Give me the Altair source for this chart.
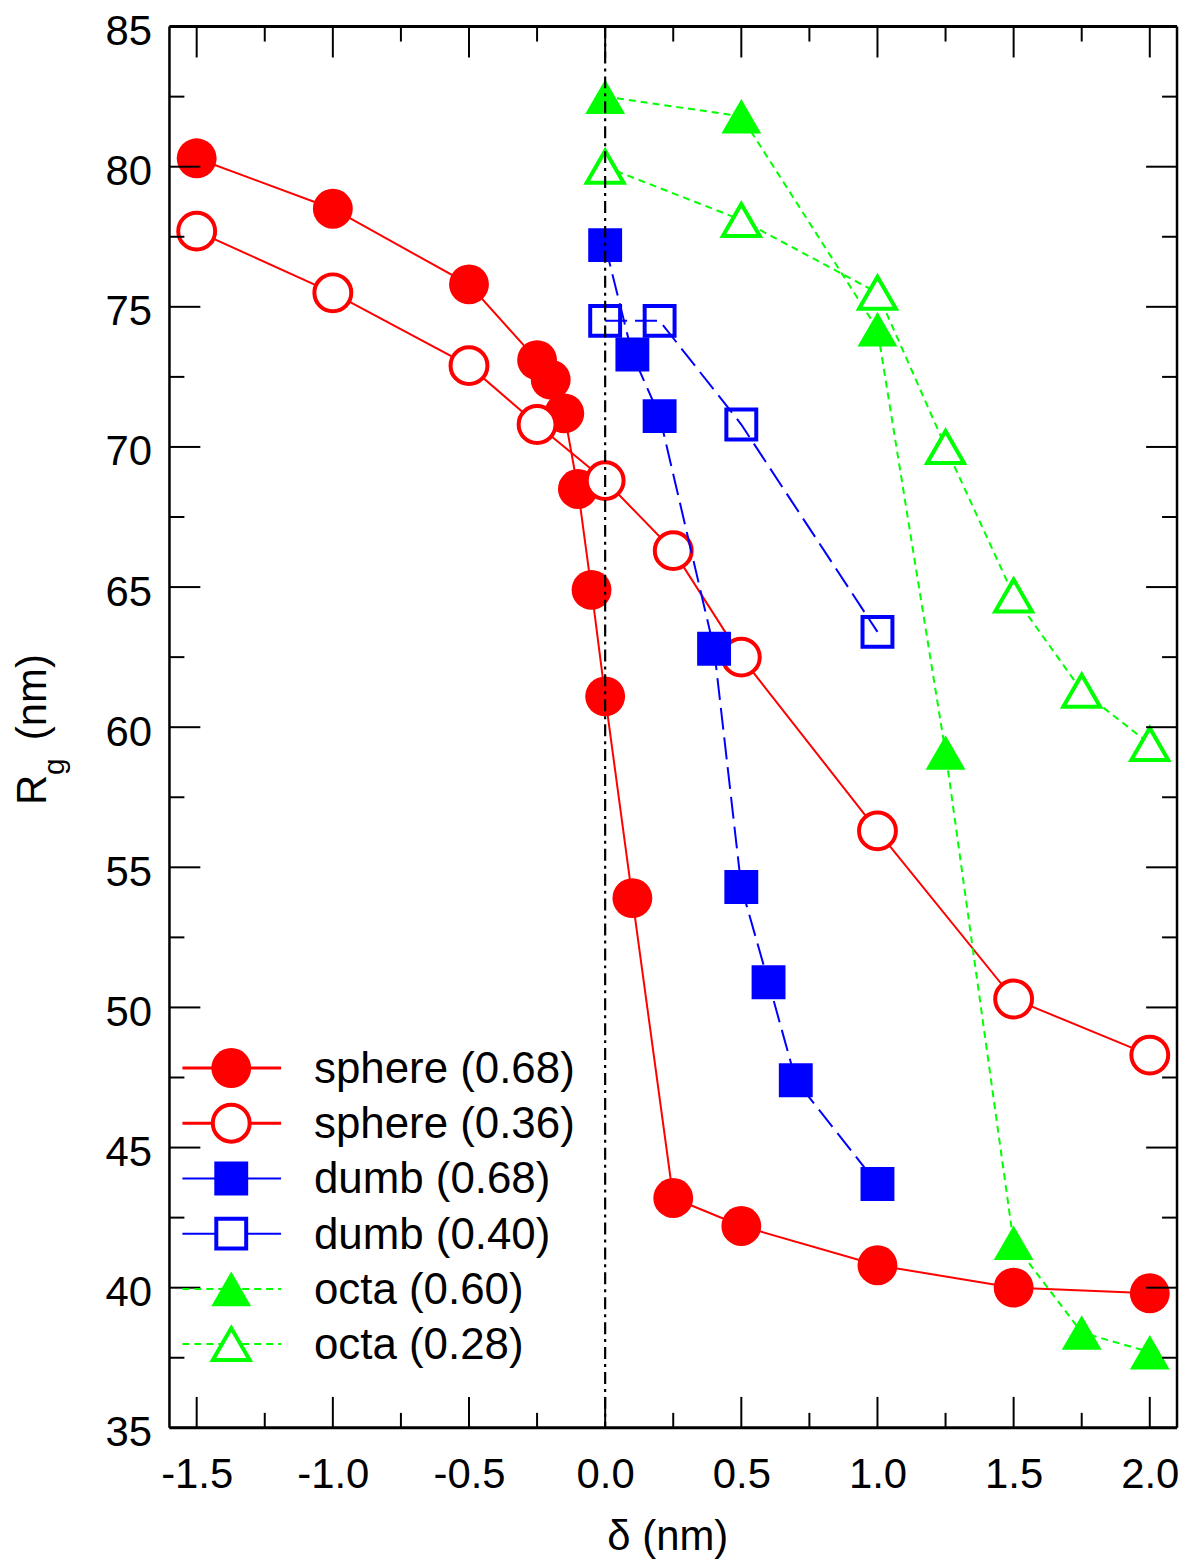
import altair as alt
import pandas as pd

# ---------------- data ----------------
series_names = ["sphere (0.68)", "sphere (0.36)", "dumb (0.68)",
                "dumb (0.40)", "octa (0.60)", "octa (0.28)"]

sphere68_x = [-1.5, -1.0, -0.5, -0.25, -0.2, -0.15, -0.1, -0.05, 0.0, 0.1, 0.25, 0.5, 1.0, 1.5, 2.0]
sphere68_y = [80.3, 78.5, 75.8, 73.1, 72.4, 71.2, 68.5, 64.9, 61.1, 53.9, 43.2, 42.2, 40.8, 40.0, 39.8]

sphere36_x = [-1.5, -1.0, -0.5, -0.25, 0.0, 0.25, 0.5, 1.0, 1.5, 2.0]
sphere36_y = [77.7, 75.5, 72.9, 70.8, 68.8, 66.3, 62.5, 56.3, 50.3, 48.3]

dumb68_x = [0.0, 0.1, 0.2, 0.4, 0.5, 0.6, 0.7, 1.0]
dumb68_y = [77.2, 73.3, 71.1, 62.8, 54.3, 50.9, 47.4, 43.7]

dumb40_x = [0.0, 0.2, 0.5, 1.0]
dumb40_y = [74.5, 74.5, 70.8, 63.4]

octa60_x = [0.0, 0.5, 1.0, 1.25, 1.5, 1.75, 2.0]
octa60_y = [82.5, 81.8, 74.2, 59.1, 41.6, 38.4, 37.7]

octa28_x = [0.0, 0.5, 1.0, 1.25, 1.5, 1.75, 2.0]
octa28_y = [80.0, 78.1, 75.5, 70.0, 64.7, 61.3, 59.4]

ref_line_x = [0.0]

x_major_ticks = [-1.5, -1.0, -0.5, 0.0, 0.5, 1.0, 1.5, 2.0]
x_minor_ticks = [-1.25, -0.75, -0.25, 0.25, 0.75, 1.25, 1.75]
y_major_ticks = [35, 40, 45, 50, 55, 60, 65, 70, 75, 80, 85]
y_minor_ticks = [37.5, 42.5, 47.5, 52.5, 57.5, 62.5, 67.5, 72.5, 77.5, 82.5]

series_xy = [
    (sphere68_x, sphere68_y), (sphere36_x, sphere36_y),
    (dumb68_x, dumb68_y), (dumb40_x, dumb40_y),
    (octa60_x, octa60_y), (octa28_x, octa28_y),
]

# ---------------- styles ----------------
FONT = "Liberation Sans"
W, H = 1011, 1406
RED, BLUE, GREEN = "#FF0000", "#0000FF", "#00FF00"
styles = [
    dict(color=RED, dash=None, shape="circle", filled=True, size=1600),
    dict(color=RED, dash=None, shape="circle", filled=False, size=1369),
    dict(color=BLUE, dash=[22, 8], shape="square", filled=True, size=1156),
    dict(color=BLUE, dash=[22, 8], shape="square", filled=False, size=900),
    dict(color=GREEN, dash=[7, 5], shape="triangle-up", filled=True, size=1600),
    dict(color=GREEN, dash=[7, 5], shape="triangle-up", filled=False, size=1369),
]

XS = alt.Scale(domain=[-1.6, 2.1], nice=False, zero=False)
YS = alt.Scale(domain=[35, 85], nice=False, zero=False)

X_AX = alt.Axis(values=x_major_ticks, labelExpr="replace(format(datum.value, '.1f'), '\u2212', '-')",
                labelFontSize=42, labelFont=FONT, labelColor="black", labelPadding=27,
                ticks=False, domain=False, grid=False, title=None,
                labelFlush=False, labelOverlap=False)
Y_AX = alt.Axis(values=y_major_ticks, format="d",
                labelFontSize=42, labelFont=FONT, labelColor="black", labelPadding=18,
                labelOffset=5, ticks=False, domain=False, grid=False, title=None,
                labelFlush=False, labelOverlap=False)


def xq(field="x"):
    return alt.X(f"{field}:Q", scale=XS, axis=X_AX)


def yq(field="y"):
    return alt.Y(f"{field}:Q", scale=YS, axis=Y_AX)


layers = []

# series lines and symbols
for name, (xs, ys), st in zip(series_names, series_xy, styles):
    df = pd.DataFrame({"x": xs, "y": ys, "series": name})
    base = alt.Chart(df)
    line_kw = dict(color=st["color"], strokeWidth=2)
    if st["dash"]:
        line_kw["strokeDash"] = st["dash"]
    layers.append(base.mark_line(**line_kw).encode(x=xq(), y=yq()))
    if st["filled"]:
        pkw = dict(shape=st["shape"], size=st["size"], filled=True, fill=st["color"],
                   opacity=1, strokeWidth=0)
    else:
        pkw = dict(shape=st["shape"], size=st["size"], filled=True, fill="white",
                   fillOpacity=1 if st["shape"] != "square" else 0,
                   stroke=st["color"], strokeWidth=4, opacity=1)
    layers.append(base.mark_point(**pkw).encode(x=xq(), y=yq()))

# vertical reference line (dash-dot)
layers.append(
    alt.Chart(pd.DataFrame({"x": ref_line_x}))
    .mark_rule(color="black", strokeWidth=2.2, strokeDash=[12, 5, 3, 5])
    .encode(x=xq())
)

# inward ticks on all four sides
MAJ, MIN = 31, 15
xmaj = alt.Chart(pd.DataFrame({"x": x_major_ticks}))
xmin = alt.Chart(pd.DataFrame({"x": x_minor_ticks}))
ymaj = alt.Chart(pd.DataFrame({"y": y_major_ticks}))
ymin = alt.Chart(pd.DataFrame({"y": y_minor_ticks}))
for src, ln in ((xmaj, MAJ), (xmin, MIN)):
    layers.append(src.mark_rule(color="black", strokeWidth=2).encode(
        x=xq(), y=alt.value(H), y2=alt.value(H - ln)))
    layers.append(src.mark_rule(color="black", strokeWidth=2).encode(
        x=xq(), y=alt.value(0), y2=alt.value(ln)))
for src, ln in ((ymaj, MAJ), (ymin, MIN)):
    layers.append(src.mark_rule(color="black", strokeWidth=2).encode(
        y=yq(), x=alt.value(0), x2=alt.value(ln)))
    layers.append(src.mark_rule(color="black", strokeWidth=2).encode(
        y=yq(), x=alt.value(W), x2=alt.value(W - ln)))

# frame
frame = alt.Chart(pd.DataFrame({"k": [0]}))
layers.append(frame.mark_rule(color="black", strokeWidth=3).encode(
    x=alt.value(0), x2=alt.value(W), y=alt.value(0)))
layers.append(frame.mark_rule(color="black", strokeWidth=3).encode(
    x=alt.value(0), x2=alt.value(W), y=alt.value(H)))
layers.append(frame.mark_rule(color="black", strokeWidth=2.5).encode(
    y=alt.value(0), y2=alt.value(H), x=alt.value(0)))
layers.append(frame.mark_rule(color="black", strokeWidth=2.5).encode(
    y=alt.value(0), y2=alt.value(H), x=alt.value(W)))

# legend (inside lower-left)
LEG_Y0, LEG_DY = 1045, 55.4
LEG_X1, LEG_X2, LEG_SYM, LEG_TXT = 13, 112, 62, 145
for i, (name, st) in enumerate(zip(series_names, styles)):
    ry = LEG_Y0 + i * LEG_DY
    one = alt.Chart(pd.DataFrame({"label": [name]}))
    rkw = dict(color=st["color"], strokeWidth=3 if st["dash"] is None else 2)
    if st["dash"]:
        rkw["strokeDash"] = st["dash"] if st["shape"] != "square" else [40, 0]
    layers.append(one.mark_rule(**rkw).encode(
        x=alt.value(LEG_X1), x2=alt.value(LEG_X2), y=alt.value(ry)))
    if st["filled"]:
        pkw = dict(shape=st["shape"], size=st["size"], filled=True, fill=st["color"],
                   opacity=1, strokeWidth=0)
    else:
        pkw = dict(shape=st["shape"], size=st["size"], filled=True, fill="white",
                   fillOpacity=1, stroke=st["color"], strokeWidth=4, opacity=1)
    layers.append(one.mark_point(**pkw).encode(x=alt.value(LEG_SYM), y=alt.value(ry)))
    layers.append(one.mark_text(font=FONT, fontSize=44, align="left", baseline="alphabetic",
                                color="black").encode(
        text="label:N", x=alt.value(LEG_TXT), y=alt.value(ry + 15)))

# axis titles
t = alt.Chart(pd.DataFrame({"a": ["δ (nm)"], "r": ["R"], "g": ["g"], "n": ["(nm)"]}))
layers.append(t.mark_text(font=FONT, fontSize=42, align="center", baseline="alphabetic",
                          color="black").encode(text="a:N", x=alt.value(500), y=alt.value(1529)))
layers.append(t.mark_text(font=FONT, fontSize=42, align="left", baseline="alphabetic",
                          angle=270, color="black").encode(
    text="r:N", x=alt.value(-124), y=alt.value(781)))
layers.append(t.mark_text(font=FONT, fontSize=30, align="left", baseline="alphabetic",
                          angle=270, color="black").encode(
    text="g:N", x=alt.value(-106), y=alt.value(751)))
layers.append(t.mark_text(font=FONT, fontSize=42, align="left", baseline="alphabetic",
                          angle=270, color="black").encode(
    text="n:N", x=alt.value(-124), y=alt.value(716)))

chart = alt.layer(*layers).properties(
    width=W, height=H,
    autosize=alt.AutoSizeParams(type="none"),
    padding={"left": 162, "top": 16, "right": 5, "bottom": 130},
).configure_view(stroke=None).configure(background="white")

chart.save("out.html", embed_options={"renderer": "svg", "actions": False})
